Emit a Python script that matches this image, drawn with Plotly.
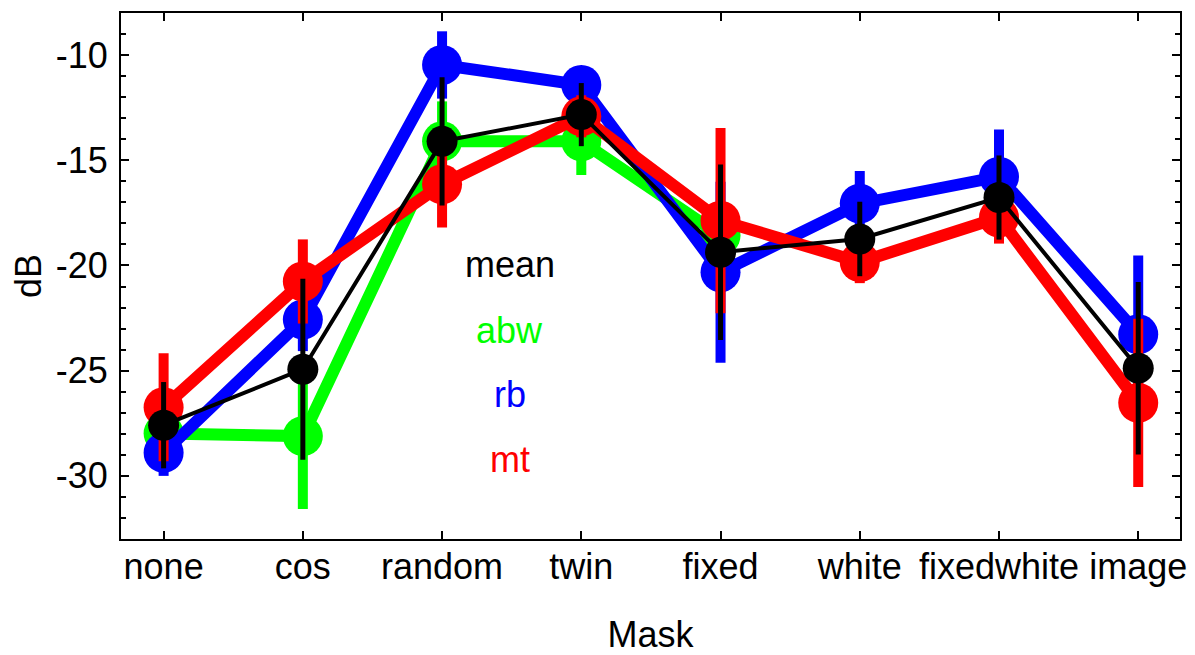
import plotly.graph_objects as go

categories = ["none", "cos", "random", "twin", "fixed", "white", "fixedwhite", "image"]
x_pos = list(range(len(categories)))

abw_vals = [-27.98, -28.11, -14.1, -14.1, -18.58, None, None, None]
abw_err = [0.8, 3.46, 1.9, 1.6, 1.0, None, None, None]

rb_vals = [-28.9, -22.57, -10.47, -11.42, -20.32, -17.06, -15.78, -23.27]
rb_err = [1.1, 1.5, 1.6, 0.9, 4.3, 1.55, 2.24, 3.74]

mt_vals = [-26.74, -20.76, -16.14, -12.91, -17.87, -19.84, -17.72, -26.53]
mt_err = [2.57, 2.0, 2.05, 1.0, 4.4, 1.0, 1.24, 4.0]

mean_vals = [-27.59, -24.93, -14.1, -12.83, -19.37, -18.74, -16.77, -24.88]
mean_err = [2.05, 4.3, 3.05, 1.5, 4.17, 1.77, 2.0, 4.1]

y_tick_vals = [-30, -25, -20, -15, -10]
y_tick_text = ["-30", "-25", "-20", "-15", "-10"]

label_names = ["mean", "abw", "rb", "mt"]
label_colors = ["#000000", "#00ff00", "#0000ff", "#ff0000"]
label_y = [-19.95, -23.1, -26.15, -29.2]
label_x = 2.485

FONT = "Liberation Sans, Arial, sans-serif"

fig = go.Figure()

def add_series(vals, errs, color, lw, msize, ew):
    fig.add_trace(go.Scatter(
        x=x_pos, y=vals, mode="lines+markers",
        line=dict(color=color, width=lw),
        marker=dict(color=color, size=msize, line=dict(width=0)),
        error_y=dict(type="data", array=errs, visible=True, color=color,
                     thickness=ew, width=0),
        connectgaps=False, showlegend=False, hoverinfo="skip",
    ))

add_series(abw_vals, abw_err, "#00ff00", 12, 40, 10)
add_series(rb_vals, rb_err, "#0000ff", 12, 40, 10)
add_series(mt_vals, mt_err, "#ff0000", 12, 40, 10)
add_series(mean_vals, mean_err, "#000000", 4, 31, 5)

for name, col, yy in zip(label_names, label_colors, label_y):
    fig.add_annotation(x=label_x, y=yy, text=name, showarrow=False,
                       font=dict(family=FONT, size=36, color=col),
                       xanchor="center", yanchor="middle")

fig.update_layout(
    width=1187, height=647,
    margin=dict(l=113, r=15, t=3, b=116),
    paper_bgcolor="white", plot_bgcolor="white",
    font=dict(family=FONT, size=36, color="black"),
    showlegend=False,
)
fig.update_xaxes(
    range=[-0.306, 7.3], tickmode="array", tickvals=x_pos, ticktext=categories,
    tickangle=0, ticklabelstandoff=-5,
    showgrid=False, zeroline=False, showline=True, linecolor="black", linewidth=2,
    mirror="ticks", ticks="inside", ticklen=8, tickwidth=1.5, tickcolor="black",
    tickfont=dict(family=FONT, size=36),
    title=dict(text="Mask", font=dict(family=FONT, size=36), standoff=39),
)
fig.update_yaxes(
    range=[-33, -8], tickmode="array", tickvals=y_tick_vals, ticktext=y_tick_text,
    ticklabelstandoff=4,
    showgrid=False, zeroline=False, showline=True, linecolor="black", linewidth=2,
    mirror="ticks", ticks="inside", ticklen=8, tickwidth=1.5, tickcolor="black",
    minor=dict(ticks="inside", dtick=1, tick0=0, ticklen=5, tickwidth=1.5, tickcolor="black", showgrid=False),
    tickfont=dict(family=FONT, size=36),
    title=dict(text="dB", font=dict(family=FONT, size=36), standoff=12),
)

fig.write_html("out.html")
